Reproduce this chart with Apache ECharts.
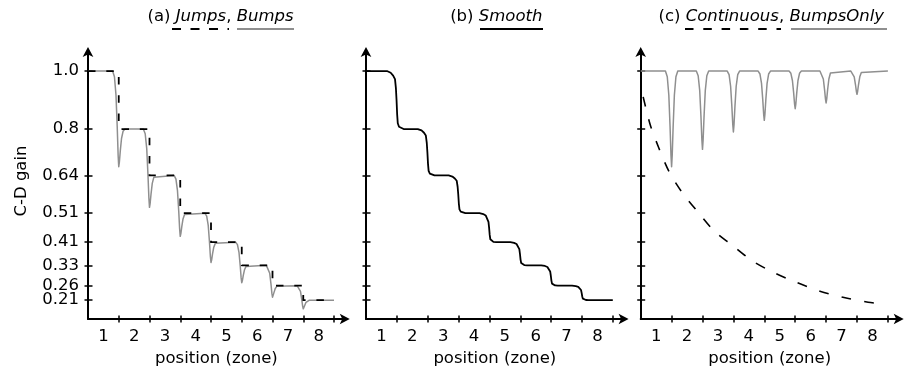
<!DOCTYPE html>
<html>
<head>
<meta charset="utf-8">
<script src="https://cdn.jsdelivr.net/npm/echarts@6/dist/echarts.min.js"></script>
<style>
html, body { margin: 0; padding: 0; background: #fff; }
#chart { width: 904px; height: 369px; }
</style>
</head>
<body>
<div id="chart"></div>
<script>
// Gain held inside each zone, zones 1..8
const zoneLevels = [1.0, 0.8, 0.64, 0.51, 0.41, 0.33, 0.26, 0.21];
// Lowest gain reached by the transient bump at zone boundaries 1..7
const jumpBumpMinima = [0.67, 0.53, 0.43, 0.34, 0.27, 0.22, 0.18];
const bumpOnlyMinima = [0.67, 0.73, 0.79, 0.83, 0.87, 0.89, 0.92];
const bumpOnlyLevel = 1.0;
// Continuous gain: position along the axis and gain at that position
const continuousPos = [0.08, 0.31, 0.59, 0.91, 1.33, 1.85, 2.38, 2.95, 3.62, 4.31, 5.05, 5.8, 6.58, 7.36, 7.95];
const continuousGain = [0.911, 0.814, 0.734, 0.655, 0.583, 0.514, 0.448, 0.40, 0.345, 0.305, 0.271, 0.241, 0.219, 0.203, 0.195];
// Bump profile: distance from the boundary (zones) and share of the bump depth reached there
const bumpShapeOffset = [0.2, 0.14, 0.09, 0.05, 0.02];
const bumpShapeDepth = [0, 0.06, 0.25, 0.58, 0.88];
// Smooth step profile: offset from the boundary (zones) and share of the step completed
const stepShapeOffset = [-0.32, -0.2, -0.12, -0.06, -0.03, -0.01, 0.01, 0.03, 0.07, 0.13, 0.22];
const stepShapeDone = [0, 0.03, 0.08, 0.14, 0.3, 0.5, 0.75, 0.9, 0.96, 0.99, 1];
// Axis ticks and labels
const zoneBoundaries = [1, 2, 3, 4, 5, 6, 7, 8];
const zoneCenters = [0.5, 1.5, 2.5, 3.5, 4.5, 5.5, 6.5, 7.5];
const zoneLabels = ['1', '2', '3', '4', '5', '6', '7', '8'];
const gainTicks = [0.21, 0.26, 0.33, 0.41, 0.51, 0.64, 0.8, 1.0];
const gainTickLabels = ['0.21', '0.26', '0.33', '0.41', '0.51', '0.64', '0.8', '1.0'];

const FONT = 'DejaVu Sans';
const FS = 16.5;
const GRAY = '#8f8f8f';

// Step function with vertical jumps at each boundary
function jumpsPath() {
  const pts = [[0, zoneLevels[0]]];
  for (let k = 1; k < zoneLevels.length; k++) {
    pts.push([k, zoneLevels[k - 1]], [k, zoneLevels[k]]);
  }
  pts.push([zoneLevels.length, zoneLevels[zoneLevels.length - 1]]);
  return pts;
}

// Line that leaves the level before a boundary, dips to the minimum there, settles on the level after
function bumpsPath(before, after, minima) {
  const n = minima.length + 1;
  const pts = [[0, before(0)]];
  for (let k = 1; k < n; k++) {
    const lo = minima[k - 1];
    const a = before(k - 1), b = after(k);
    for (let i = 0; i < bumpShapeOffset.length; i++) {
      pts.push([k - bumpShapeOffset[i], a - bumpShapeDepth[i] * (a - lo)]);
    }
    pts.push([k, lo]);
    for (let i = bumpShapeOffset.length - 1; i >= 0; i--) {
      pts.push([k + bumpShapeOffset[i], b - bumpShapeDepth[i] * (b - lo)]);
    }
  }
  pts.push([n, after(n - 1)]);
  return pts;
}

// Staircase with rounded transitions
function smoothPath() {
  const pts = [[0, zoneLevels[0]]];
  for (let k = 1; k < zoneLevels.length; k++) {
    const a = zoneLevels[k - 1], b = zoneLevels[k];
    for (let i = 0; i < stepShapeOffset.length; i++) {
      pts.push([k + stepShapeOffset[i], a + stepShapeDone[i] * (b - a)]);
    }
  }
  pts.push([zoneLevels.length, zoneLevels[zoneLevels.length - 1]]);
  return pts;
}

// The gain labels sit close together, so alternate ones go on the two stacked y axes
const gainLabelsA = gainTicks.filter((v, i) => i % 2 === 0);
const gainLabelsB = gainTicks.filter((v, i) => i % 2 === 1);

const panels = [
  { left: 88, zone: 30.75, yLabels: true },
  { left: 366, zone: 30.85, yLabels: false },
  { left: 640.7, zone: 30.9, yLabels: false }
];
const X_MAX = 8.35;
const Y_MIN = 0.145, Y_MAX = 1.0655;
const Y_PX = 290;
const AXIS_Y = 319;

function gainLabel(values, show) {
  return { show: show, customValues: values, margin: 9, color: '#000', fontSize: FS, fontFamily: FONT,
    hideOverlap: false, formatter: v => gainTickLabels[gainTicks.indexOf(v)] };
}

const grids = [], xAxes = [], yAxes = [];
panels.forEach((p, i) => {
  grids.push({
    left: p.left,
    top: AXIS_Y - (Y_MAX - Y_MIN) * Y_PX,
    width: X_MAX * p.zone,
    height: (Y_MAX - Y_MIN) * Y_PX,
    outerBoundsMode: 'none'
  });
  const xBase = { type: 'value', gridIndex: i, min: 0, max: X_MAX, position: 'bottom', splitLine: { show: false } };
  xAxes.push(Object.assign({}, xBase, {
    axisLine: { show: true, onZero: false, lineStyle: { color: '#000', width: 2 },
      symbol: ['none', 'arrow'], symbolSize: [8, 10], symbolOffset: [0, 5] },
    axisTick: { show: true, customValues: zoneBoundaries, length: 3.5, lineStyle: { color: '#000', width: 1.5 } },
    axisLabel: { show: true, customValues: zoneCenters, margin: 9.5, color: '#000', fontSize: FS, fontFamily: FONT,
      hideOverlap: false, formatter: v => zoneLabels[zoneCenters.indexOf(v)] },
    name: 'position (zone)', nameLocation: 'middle', nameGap: 26,
    nameTextStyle: { color: '#000', fontSize: FS, fontFamily: FONT }
  }));
  xAxes.push(Object.assign({}, xBase, {
    axisLine: { show: false },
    axisTick: { show: true, inside: true, customValues: zoneBoundaries, length: 3.5, lineStyle: { color: '#000', width: 1.5 } },
    axisLabel: { show: false }
  }));
  const yBase = { type: 'value', gridIndex: i, min: Y_MIN, max: Y_MAX, position: 'left', splitLine: { show: false } };
  yAxes.push(Object.assign({}, yBase, {
    axisLine: { show: true, onZero: false, lineStyle: { color: '#000', width: 2 },
      symbol: ['none', 'arrow'], symbolSize: [8, 10], symbolOffset: [0, 5] },
    axisTick: { show: true, customValues: gainTicks, length: 3.5, lineStyle: { color: '#000', width: 1.5 } },
    axisLabel: gainLabel(gainLabelsA, p.yLabels)
  }));
  yAxes.push(Object.assign({}, yBase, {
    axisLine: { show: false },
    axisTick: { show: true, inside: true, customValues: gainTicks, length: 4.5, lineStyle: { color: '#000', width: 1.5 } },
    axisLabel: gainLabel(gainLabelsB, p.yLabels)
  }));
});

function line(panel, data, color, width, dash, smooth) {
  return {
    type: 'line', xAxisIndex: panel * 2, yAxisIndex: panel * 2, data: data,
    showSymbol: false, symbol: 'none', smooth: smooth || false, silent: true, animation: false,
    lineStyle: { color: color, width: width, type: dash || 'solid', cap: 'butt', join: 'round' }
  };
}

const continuousData = continuousPos.map((x, i) => [x, continuousGain[i]]);

const series = [
  line(0, bumpsPath(k => zoneLevels[k], k => zoneLevels[k], jumpBumpMinima), GRAY, 1.5),
  line(0, jumpsPath(), '#000', 1.8, [7.5, 10.8]),
  line(1, smoothPath(), '#000', 1.8),
  line(2, bumpsPath(() => bumpOnlyLevel, () => bumpOnlyLevel, bumpOnlyMinima), GRAY, 1.5),
  line(2, continuousData, '#000', 1.6, [10, 13], 0.3)
];

const titleRich = {
  n: { fontSize: FS, fontFamily: FONT, fontStyle: 'normal', fill: '#000' },
  i: { fontSize: FS, fontFamily: FONT, fontStyle: 'italic', fill: '#000' }
};
function titleText(x, text) {
  return { type: 'text', x: x, y: 17, silent: true,
    style: { text: text, rich: titleRich, fontSize: FS, fontFamily: FONT, fill: '#000', align: 'center', verticalAlign: 'middle' } };
}
function underline(x1, x2, color, dash) {
  return { type: 'line', silent: true, shape: { x1: x1, y1: 29, x2: x2, y2: 29 },
    style: { stroke: color, lineWidth: 1.8, lineDash: dash || null } };
}

const graphic = [
  titleText(220.5, '{n|(a) }{i|Jumps}{n|, }{i|Bumps}'),
  titleText(496.3, '{n|(b) }{i|Smooth}'),
  titleText(771.3, '{n|(c) }{i|Continuous}{n|, }{i|BumpsOnly}'),
  underline(172, 229, '#000', [9, 9.5]),
  underline(237, 294, GRAY),
  underline(480, 543, '#000'),
  underline(685, 781, '#000', [8.5, 9.8]),
  underline(791, 887, GRAY),
  { type: 'text', x: 22, y: 181, rotation: Math.PI / 2, silent: true,
    style: { text: 'C-D gain', fontSize: FS, fontFamily: FONT, fill: '#000', align: 'center', verticalAlign: 'middle' } }
];

const chart = echarts.init(document.getElementById('chart'), null, { renderer: 'canvas' });
chart.setOption({
  animation: false,
  backgroundColor: '#fff',
  grid: grids,
  xAxis: xAxes,
  yAxis: yAxes,
  series: series,
  graphic: graphic
});
</script>
</body>
</html>
